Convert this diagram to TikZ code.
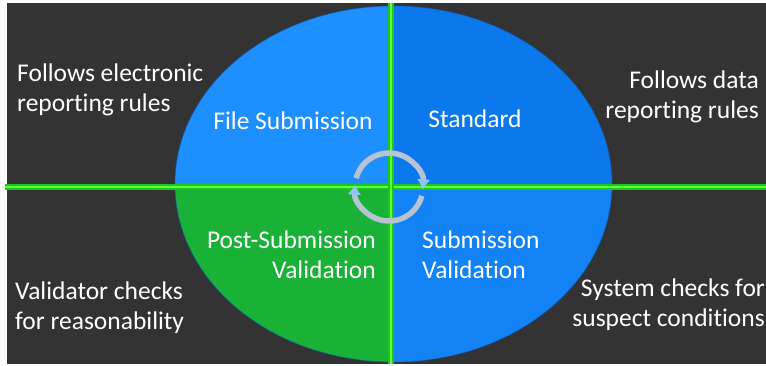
\documentclass[tikz,border=0pt]{standalone}
\usepackage{fontspec}
\setmainfont{Carlito}[Ligatures=NoCommon]
\usetikzlibrary{arrows.meta}
\definecolor{bgdark}{HTML}{333333}
\definecolor{qtl}{HTML}{1E8FFF}
\definecolor{qtr}{HTML}{0B78EC}
\definecolor{qbr}{HTML}{1282F5}
\definecolor{qbl}{HTML}{19B237}
\definecolor{rim}{HTML}{0A5FC0}
\definecolor{linegreen}{HTML}{1FC41F}
\definecolor{linelight}{HTML}{5CFF3C}
\definecolor{arcgray}{HTML}{B7C3D3}
\definecolor{arrowblue}{HTML}{8EC4FF}
\tikzset{
  lbl/.style={text=white, font=\fontsize{25.5}{30}\selectfont, inner sep=0pt},
  greenbar/.style={line width=6pt, linegreen},
  greenhi/.style={line width=1.8pt, linelight},
  cyclearc/.style={line width=5.5pt, arcgray, -{Latex[length=10pt,width=14pt,color=arrowblue]}}
}
\begin{document}
\begin{tikzpicture}[x=1pt,y=-1pt]
\useasboundingbox (0,0) rectangle (766,365);
\fill[white] (0,0) rectangle (766,365);
\fill[bgdark] (7,3) rectangle (766,364);
% ellipse quadrants
\begin{scope}
\clip (393.5,184) ellipse [x radius=218.5, y radius=178];
\fill[qtl] (170,0) rectangle (391,187);
\fill[qtr] (391,0) rectangle (620,187);
\fill[qbl] (170,187) rectangle (391,370);
\fill[qbr] (391,187) rectangle (620,370);
\end{scope}
\draw[rim, line width=0.8pt, opacity=0.6] (393.5,184) ellipse [x radius=218.5, y radius=178];
% green cross lines
\coordinate (hl) at (5,187);
\coordinate (hr) at (766,187);
\coordinate (vt) at (391,3);
\coordinate (vb) at (391,364);
\draw[greenbar] (hl) -- (hr);
\draw[greenhi] (hl) -- (hr);
\draw[greenbar] (vt) -- (vb);
\draw[greenhi] (vt) -- (vb);
% cycle arrows
\begin{scope}[shift={(389,187)}, yscale=-1]
\coordinate (cc) at (0,0);
\draw[cyclearc] (165:34) arc[start angle=165, end angle=-4, radius=34];
\draw[cyclearc] (-15:34) arc[start angle=-15, end angle=-184, radius=34];
\end{scope}
% labels
\node[lbl, anchor=west, align=left] (fer) at (17,90) {Follows electronic\\reporting rules};
\node[lbl] (fs) at (293,121) {File Submission};
\node[lbl] (std) at (475,119) {Standard};
\node[lbl, anchor=east, align=right] (fdr) at (759,97) {Follows data\\reporting rules};
\node[lbl, anchor=east, align=right] (psv) at (376,255) {Post-Submission\\Validation};
\node[lbl, anchor=west, align=left] (sv) at (422,255) {Submission\\Validation};
\node[lbl, anchor=west, align=left] (vcr) at (15,308) {Validator checks\\for reasonability};
\node[lbl, anchor=east, align=right] (scs) at (765,305) {System checks for\\suspect conditions};
\end{tikzpicture}
\end{document}
